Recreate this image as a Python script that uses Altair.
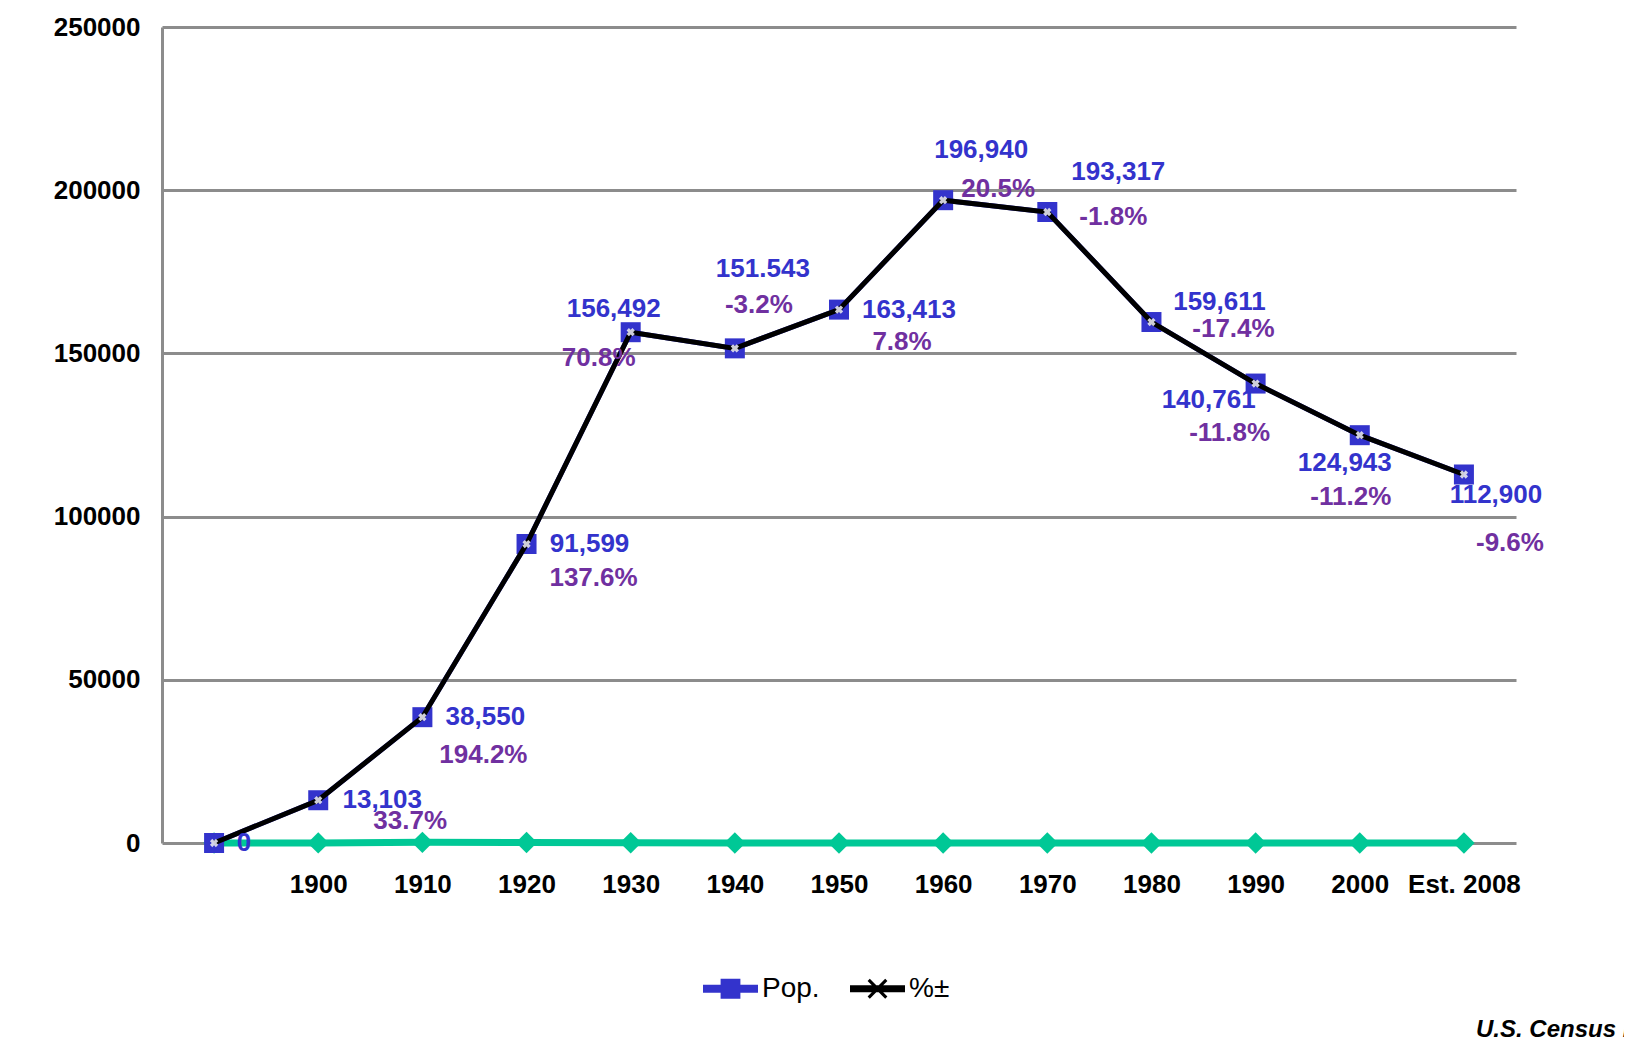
import altair as alt
import pandas as pd

# ---- data ----
categories = ["", "1900", "1910", "1920", "1930", "1940", "1950", "1960",
              "1970", "1980", "1990", "2000", "Est. 2008"]
pop = [0, 13103, 38550, 91599, 156492, 151543, 163413, 196940, 193317,
       159611, 140761, 124943, 112900]
pop_labels = ["0", "13,103", "38,550", "91,599", "156,492", "151.543", "163,413",
              "196,940", "193,317", "159,611", "140,761", "124,943", "112,900"]
pct_labels = ["", "33.7%", "194.2%", "137.6%", "70.8%", "-3.2%", "7.8%",
              "20.5%", "-1.8%", "-17.4%", "-11.8%", "-11.2%", "-9.6%"]
pct_values = [0, 33.7, 194.2, 137.6, 70.8, -3.2, 7.8, 20.5, -1.8, -17.4,
              -11.8, -11.2, -9.6]
series_names = ["Pop.", "%±"]
source_note = "U.S. Census Bureau"

# ---- label placement (pixel offsets from each point) ----
pop_label_offsets = [(30, 0), (64, 0), (63, 0), (63, 0), (-17, -23), (28, -79),
                     (70, 0), (38, -50), (71, -40), (68, -20), (-47, 16),
                     (-15, 28), (32, 21)]
pct_label_offsets = [(0, 0), (92, 21), (61, 38), (67, 34), (-32, 26), (24, -43),
                     (63, 32), (55, -11), (66, 5), (82, 7), (-26, 49),
                     (-9, 62), (46, 69)]

BLUE = "#3333cc"
PURPLE = "#7030a0"
GREEN = "#00c896"
GRID = "#8c8c8c"
FONT = "Liberation Sans"

df = pd.DataFrame({
    "idx": list(range(len(categories))),
    "cat": categories,
    "pop": pop,
    "pop_label": pop_labels,
    "pct_label": pct_labels,
    "pct": pct_values,
})

long_rows = []
for s in series_names:
    for c, v in zip(categories, pop):
        long_rows.append({"cat": c, "value": v, "series": s})
long_df = pd.DataFrame(long_rows)

x_enc = alt.X(
    "cat:N",
    sort=categories,
    scale=alt.Scale(type="point", domain=categories, padding=0.5),
    axis=alt.Axis(title=None, labelAngle=0, ticks=False, domain=False, grid=False,
                  labelFont=FONT, labelFontSize=26, labelFontWeight="bold",
                  labelColor="black", labelPadding=28),
)
y_scale = alt.Scale(domain=[0, 250000], nice=False, zero=True)
y_axis = alt.Axis(title=None, values=[0, 50000, 100000, 150000, 200000, 250000],
                  format="d", ticks=False, grid=True, gridColor=GRID, gridWidth=3,
                  domain=True, domainColor=GRID, domainWidth=3,
                  labelFont=FONT, labelFontSize=26, labelFontWeight="bold",
                  labelColor="black", labelPadding=22)

base = alt.Chart(df)

green_line = base.mark_line(color=GREEN, strokeWidth=7).encode(
    x=x_enc, y=alt.Y("pct:Q", scale=y_scale, axis=y_axis))
green_pts = base.mark_point(shape="diamond", filled=True, color=GREEN, size=460,
                            opacity=1).encode(x=x_enc, y=alt.Y("pct:Q", scale=y_scale))

pop_sq = base.mark_point(shape="square", filled=True, color=BLUE, size=400,
                         opacity=1).encode(x=x_enc, y=alt.Y("pop:Q", scale=y_scale))

blue_line = base.mark_line(color=BLUE, strokeWidth=5).encode(
    x=x_enc, y=alt.Y("pop:Q", scale=y_scale))
black_line = base.mark_line(color="#000000", strokeWidth=5).encode(
    x=x_enc, y=alt.Y("pop:Q", scale=y_scale))

x_marks = base.mark_point(shape="cross", angle=45, filled=True, color="#e4e4ee",
                          size=70, opacity=0.9).encode(
    x=x_enc, y=alt.Y("pop:Q", scale=y_scale))

# legend symbols: line + marker paths
pop_sym = "M-1,-0.145H1V0.145H-1Z M-0.36,-0.36H0.36V0.36H-0.36Z"
a, t = 0.36, 0.08
x_sym = ("M-1,-0.13H1V0.13H-1Z "
         f"M{-a},{-a+t}L{-a+t},{-a}L0,{-t}L{a-t},{-a}L{a},{-a+t}L{t},0"
         f"L{a},{a-t}L{a-t},{a}L0,{t}L{-a+t},{a}L{-a},{a-t}L{-t},0Z")

legend = alt.Legend(
    title=None, orient="none", direction="horizontal", legendX=541, legendY=934,
    labelFont=FONT, labelFontSize=28, labelColor="black", labelOffset=4,
    columnPadding=30, symbolSize=3025, symbolStrokeWidth=0, symbolOpacity=1,
)

legend_layer = alt.Chart(long_df).mark_point(filled=True, opacity=0, size=10).encode(
    x=x_enc,
    y=alt.Y("value:Q", scale=y_scale),
    color=alt.Color("series:N", sort=series_names,
                    scale=alt.Scale(domain=series_names, range=[BLUE, "#000000"]),
                    legend=legend),
    shape=alt.Shape("series:N", sort=series_names,
                    scale=alt.Scale(domain=series_names, range=[pop_sym, x_sym]),
                    legend=legend),
)

layers = [green_line, green_pts, pop_sq, blue_line, black_line, x_marks, legend_layer]

for i in range(len(categories)):
    dx, dy = pop_label_offsets[i]
    layers.append(
        base.transform_filter(alt.datum.idx == i).mark_text(
            dx=dx, dy=dy, align="center", baseline="middle", font=FONT,
            fontSize=26, fontWeight="bold", color=BLUE
        ).encode(x=x_enc, y=alt.Y("pop:Q", scale=y_scale), text="pop_label:N")
    )
    if pct_labels[i]:
        dx, dy = pct_label_offsets[i]
        layers.append(
            base.transform_filter(alt.datum.idx == i).mark_text(
                dx=dx, dy=dy, align="center", baseline="middle", font=FONT,
                fontSize=26, fontWeight="bold", color=PURPLE
            ).encode(x=x_enc, y=alt.Y("pop:Q", scale=y_scale), text="pct_label:N")
        )

note = alt.Chart(pd.DataFrame({"note": [source_note]})).mark_text(
    align="left", baseline="middle", font=FONT, fontSize=24, fontWeight="bold",
    fontStyle="italic", color="black"
).encode(x=alt.value(1314), y=alt.value(1003), text="note:N")
layers.append(note)

chart = alt.layer(*layers).properties(
    width=1354, height=816,
    autosize=alt.AutoSizeParams(type="none"),
    padding={"left": 154, "top": 19, "right": 108, "bottom": 195},
    background="white",
).configure_view(stroke=None)

chart.save("out.html", embed_options={"renderer": "svg", "actions": False})
